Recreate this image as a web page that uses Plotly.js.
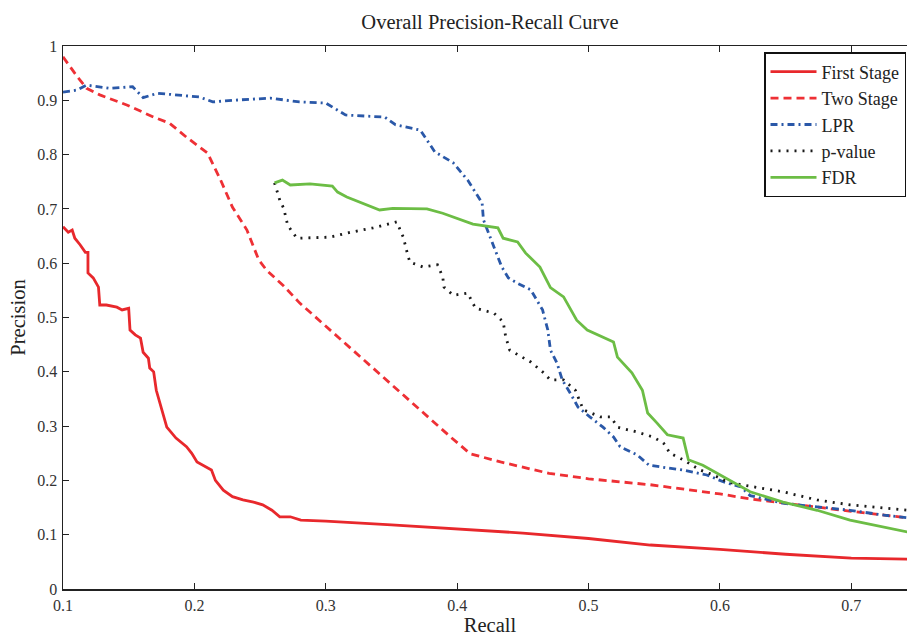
<!DOCTYPE html>
<html>
<head>
<meta charset="utf-8">
<script src="https://cdn.plot.ly/plotly-3.0.1.min.js"></script>
<style>
html,body{margin:0;padding:0;overflow:hidden;background:#fff;width:907px;height:638px;}
#chart{width:917px;height:638px;}
</style>
</head>
<body>
<div id="chart"></div>
<script>
// First Stage (red solid)
const firstX = [0.1,0.104,0.107,0.109,0.113,0.117,0.119,0.119,0.123,0.127,0.128,0.133,0.141,0.145,0.15,0.151,0.155,0.159,0.161,0.165,0.166,0.169,0.171,0.174,0.179,0.186,0.194,0.198,0.202,0.213,0.216,0.222,0.229,0.237,0.245,0.252,0.259,0.265,0.273,0.281,0.3,0.35,0.4,0.45,0.5,0.547,0.6,0.65,0.7,0.743];
const firstY = [0.667,0.657,0.661,0.646,0.634,0.62,0.62,0.582,0.573,0.556,0.523,0.523,0.519,0.514,0.517,0.477,0.468,0.462,0.436,0.425,0.407,0.4,0.366,0.339,0.298,0.278,0.262,0.25,0.234,0.219,0.2,0.182,0.17,0.164,0.16,0.155,0.145,0.133,0.133,0.127,0.125,0.118,0.111,0.103,0.093,0.081,0.073,0.064,0.057,0.055];

// Two Stage (red dashed)
const twoX = [0.1,0.111,0.118,0.128,0.149,0.169,0.181,0.194,0.21,0.22,0.229,0.24,0.249,0.255,0.268,0.28,0.395,0.41,0.433,0.47,0.5,0.547,0.6,0.623,0.7,0.743];
const twoY = [0.98,0.943,0.922,0.91,0.891,0.869,0.858,0.832,0.803,0.753,0.703,0.661,0.606,0.587,0.558,0.527,0.28,0.249,0.234,0.213,0.203,0.192,0.175,0.166,0.143,0.131];

// LPR (blue dash-dot)
const lprX = [0.1,0.111,0.118,0.128,0.136,0.153,0.161,0.172,0.204,0.214,0.229,0.258,0.28,0.3,0.315,0.345,0.353,0.372,0.383,0.397,0.408,0.419,0.42,0.428,0.434,0.439,0.446,0.456,0.465,0.469,0.471,0.476,0.48,0.486,0.492,0.501,0.511,0.519,0.524,0.537,0.546,0.56,0.572,0.59,0.603,0.616,0.623,0.648,0.674,0.699,0.725,0.743];
const lprY = [0.915,0.919,0.928,0.925,0.922,0.925,0.905,0.913,0.906,0.897,0.9,0.904,0.897,0.895,0.873,0.869,0.855,0.845,0.805,0.785,0.753,0.711,0.68,0.63,0.593,0.573,0.563,0.551,0.514,0.477,0.44,0.416,0.385,0.361,0.335,0.317,0.298,0.28,0.262,0.247,0.228,0.223,0.219,0.21,0.197,0.188,0.172,0.158,0.151,0.145,0.136,0.131];

// p-value (black dotted)
const pvalX = [0.261,0.265,0.268,0.271,0.278,0.293,0.303,0.319,0.336,0.354,0.359,0.362,0.364,0.374,0.385,0.389,0.39,0.397,0.408,0.414,0.428,0.435,0.437,0.44,0.456,0.465,0.471,0.481,0.49,0.496,0.509,0.517,0.522,0.537,0.549,0.557,0.562,0.572,0.585,0.595,0.606,0.616,0.648,0.674,0.699,0.743];
const pvalY = [0.748,0.716,0.701,0.67,0.646,0.648,0.648,0.657,0.665,0.676,0.648,0.619,0.602,0.593,0.597,0.575,0.556,0.541,0.545,0.517,0.508,0.492,0.464,0.44,0.418,0.4,0.385,0.385,0.366,0.33,0.317,0.317,0.298,0.289,0.28,0.269,0.25,0.238,0.219,0.21,0.197,0.192,0.179,0.164,0.155,0.145];

// FDR (green solid)
const fdrX = [0.261,0.267,0.273,0.288,0.305,0.309,0.316,0.328,0.341,0.351,0.364,0.377,0.389,0.402,0.412,0.431,0.435,0.446,0.452,0.463,0.471,0.481,0.491,0.499,0.519,0.522,0.533,0.541,0.545,0.552,0.56,0.572,0.576,0.587,0.6,0.61,0.623,0.648,0.674,0.699,0.725,0.743];
const fdrY = [0.748,0.753,0.744,0.746,0.742,0.731,0.722,0.711,0.698,0.701,0.7,0.7,0.692,0.681,0.672,0.665,0.646,0.639,0.619,0.593,0.555,0.538,0.495,0.477,0.455,0.427,0.398,0.366,0.324,0.306,0.284,0.278,0.238,0.228,0.21,0.197,0.179,0.16,0.145,0.127,0.114,0.105];

const xTicks = [0.1,0.2,0.3,0.4,0.5,0.6,0.7];
const yTicks = [0,0.1,0.2,0.3,0.4,0.5,0.6,0.7,0.8,0.9,1];

const FONT = '"Liberation Serif", "DejaVu Serif", serif';
const W = 2.8;

const traces = [
  {x:firstX, y:firstY, name:'First Stage', mode:'lines', line:{color:'#e8282c', width:W}, legendgroup:'a'},
  {x:twoX, y:twoY, name:'Two Stage', mode:'lines', line:{color:'#ee3035', width:W, dash:'8px,5px'}, legendgroup:'b'},
  {x:lprX, y:lprY, name:'LPR', mode:'lines', line:{color:'#2a58a8', width:W, dash:'7px,4px,2px,4px'}, legendgroup:'c'},
  {x:pvalX, y:pvalY, name:'p-value', mode:'lines', line:{color:'#1a1a1a', width:W, dash:'2px,6px'}, legendgroup:'d'},
  {x:fdrX, y:fdrY, name:'FDR', mode:'lines', line:{color:'#6cbd45', width:W}, legendgroup:'e'}
];

const axisCommon = {
  showgrid:false, zeroline:false, showline:true, linecolor:'#222', linewidth:1.5,
  mirror:'ticks', ticks:'inside', ticklen:6, tickwidth:1, tickcolor:'#222',
  tickfont:{family:FONT, size:16, color:'#333'}
};

const layout = {
  width:917, height:638,
  margin:{l:63, r:0, t:46, b:49},
  paper_bgcolor:'#fff', plot_bgcolor:'#fff',
  font:{family:FONT, color:'#222'},
  title:{text:'Overall Precision-Recall Curve', font:{family:FONT, size:20.5, color:'#222'}, x:0.5, xref:'paper', y:1-22/638, yref:'container', yanchor:'middle'},
  xaxis:Object.assign({}, axisCommon, {range:[0.1,0.75], tickvals:xTicks, ticktext:xTicks.map(String), automargin:false, ticklabelstandoff:1,
    title:{text:'Recall', font:{family:FONT, size:20.5, color:'#222'}, standoff:5}}),
  yaxis:Object.assign({}, axisCommon, {range:[0,1], tickvals:yTicks, ticktext:yTicks.map(String), automargin:false, ticklabelstandoff:1,
    title:{text:'Precision', font:{family:FONT, size:20.5, color:'#222'}, standoff:6}}),
  legend:{x:(906-63)/854, xanchor:'right', y:1-(52-46)/543, yanchor:'top', bgcolor:'#fff', bordercolor:'#111', borderwidth:1.5,
    font:{family:FONT, size:18, color:'#222'}, itemwidth:46, traceorder:'grouped', tracegroupgap:0},
  showlegend:true
};

Plotly.newPlot('chart', traces, layout, {displayModeBar:false, staticPlot:true});
</script>
</body>
</html>
